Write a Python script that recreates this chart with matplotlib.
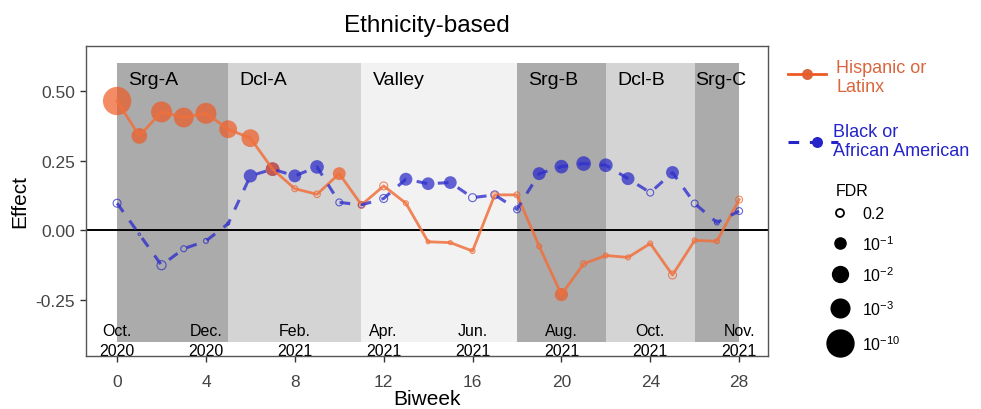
import numpy as np
from matplotlib import pyplot as plt
from matplotlib.lines import Line2D

plt.rcParams['font.family'] = ['Liberation Sans', 'DejaVu Sans']
plt.rcParams['mathtext.fontset'] = 'custom'
plt.rcParams['mathtext.rm'] = 'Liberation Sans'
plt.rcParams['mathtext.it'] = 'Liberation Sans:italic'

biweek = list(range(29))

hisp_effect = [0.463, 0.338, 0.424, 0.404, 0.419, 0.362, 0.330, 0.219, 0.149, 0.129,
               0.203, 0.091, 0.159, 0.097, -0.041, -0.044, -0.074, 0.127, 0.127, -0.057,
               -0.230, -0.120, -0.090, -0.097, -0.047, -0.160, -0.036, -0.039, 0.110]
hisp_fdr = [1e-10, 0.026, 4e-4, 1.3e-3, 4e-4, 7e-3, 7e-3, 0.068, 0.40, 0.37,
            0.089, 0.35, 0.29, 0.46, 0.51, 0.51, 0.46, 0.40, 0.40, 0.46,
            0.079, 0.40, 0.46, 0.46, 0.46, 0.29, 0.46, 0.46, 0.35]

black_effect = [0.097, -0.014, -0.125, -0.066, -0.038, 0.024, 0.195, 0.219, 0.195, 0.227,
                0.100, 0.091, 0.114, 0.183, 0.167, 0.171, 0.117, 0.127, 0.075, 0.203,
                0.228, 0.239, 0.233, 0.185, 0.135, 0.207, 0.096, 0.028, 0.069]
black_fdr = [0.29, 0.63, 0.23, 0.40, 0.46, 0.56, 0.079, 0.068, 0.089, 0.068,
             0.35, 0.40, 0.29, 0.089, 0.095, 0.095, 0.29, 0.29, 0.35, 0.089,
             0.068, 0.044, 0.068, 0.089, 0.35, 0.089, 0.35, 0.46, 0.35]

wave_names = ['Srg-A', 'Dcl-A', 'Valley', 'Srg-B', 'Dcl-B', 'Srg-C']
wave_start = [0, 5, 11, 18, 22, 26]
wave_end = [5, 11, 18, 22, 26, 28]
wave_label_x = [0.5, 5.5, 11.5, 18.5, 22.5, 26.0]

month_x = [0, 4, 8, 12, 16, 20, 24, 28]
month_lab = ['Oct.', 'Dec.', 'Feb.', 'Apr.', 'Jun.', 'Aug.', 'Oct.', 'Nov.']
year_lab = ['2020', '2020', '2021', '2021', '2021', '2021', '2021', '2021']

legend_fdr = [0.2, 1e-1, 1e-2, 1e-3, 1e-10]
legend_fdr_lab = ['0.2', '10$^{-1}$', '10$^{-2}$', '10$^{-3}$', '10$^{-10}$']

ORANGE = '#EE5A24'
BLUE = '#2424C8'
band_col = {'Srg': '#ABABAB', 'Dcl': '#D4D4D4', 'Val': '#F2F2F2'}


def msize(fdr):
    # diameter in px from -log10(FDR), then scatter area in pt^2 (dpi 100)
    v = -np.log10(np.asarray(fdr))
    d = np.clip(12 + 15 * np.log10(v), 2.5, None)
    return (d * 0.72) ** 2


fig = plt.figure(figsize=(9.81, 4.10), dpi=100)
ax = fig.add_axes([86 / 981, 53 / 410, 682 / 981, 310 / 410])

for name, s, e, lx in zip(wave_names, wave_start, wave_end, wave_label_x):
    ax.bar(s, 1.0, bottom=-0.40, width=e - s, align='edge', color=band_col[name[:3]],
           zorder=0, linewidth=0)
    ax.text(lx, 0.54, name, fontsize=14, va='center', ha='left', color='black', zorder=1)

for mx, ml, yl in zip(month_x, month_lab, year_lab):
    ax.text(mx, -0.358, ml, fontsize=11.5, ha='center', va='center', zorder=1)
    ax.text(mx, -0.430, yl, fontsize=11.5, ha='center', va='center', zorder=1)

ax.axhline(0, color='black', lw=1.4, zorder=2)

for eff, fdr, col in [(black_effect, black_fdr, BLUE), (hisp_effect, hisp_fdr, ORANGE)]:
    eff = np.array(eff)
    fdr = np.array(fdr)
    x = np.array(biweek)
    sig = fdr <= 0.1
    ax.scatter(x[sig], eff[sig], s=msize(fdr[sig]) * 1.1, color=col, alpha=0.7, lw=0, zorder=3)
    ax.scatter(x[~sig], eff[~sig], s=msize(fdr[~sig]), facecolor='none', edgecolor=col,
               alpha=0.7, lw=0.8, zorder=3)

ax.plot(biweek, hisp_effect, color='#F0703C', lw=2, alpha=0.85, zorder=4)
ax.plot(biweek, black_effect, color='#3030CC', lw=2.2, alpha=0.8, dashes=(3.5, 3.5), zorder=4)

ax.set_xlim(-1.4, 29.3)
ax.set_ylim(-0.45, 0.66)
ax.set_xticks(month_x)
ax.set_yticks([-0.25, 0, 0.25, 0.5])
ax.set_yticklabels(['-0.25', '0.00', '0.25', '0.50'])
ax.tick_params(labelsize=12.5, labelcolor='#444444', color='#333333', length=4, width=1,
               pad=4)
ax.tick_params(axis='x', pad=9)
for sp in ax.spines.values():
    sp.set_color('#555555')
    sp.set_linewidth(1)
ax.set_xlabel('Biweek', fontsize=15, labelpad=0)
ax.set_ylabel('Effect', fontsize=15, labelpad=4)
ax.set_title('Ethnicity-based', fontsize=17.5, pad=11)

# legend drawn in figure pixel space
lg = fig.add_axes([0, 0, 1, 1])
lg.set_xlim(0, 981)
lg.set_ylim(410, 0)
lg.axis('off')
lg.add_line(Line2D([788, 826], [75, 75], color=ORANGE, lw=2))
lg.scatter([807], [75], s=(11 * 0.72) ** 2, color='#D9663C', lw=0)
lg.text(836, 78, 'Hispanic or\nLatinx', color='#D9663C', fontsize=13, va='center',
        ha='left', linespacing=1.2)
lg.add_line(Line2D([788, 838], [143, 143], color=BLUE, lw=2.2, dashes=(3.5, 3.5)))
lg.scatter([817], [143], s=(11 * 0.72) ** 2, color=BLUE, lw=0)
lg.text(833, 142, 'Black or\nAfrican American', color=BLUE, fontsize=13, va='center',
        ha='left', linespacing=1.2)
lg.text(836, 192, 'FDR', fontsize=11.5, va='center', ha='left')
for i, (f, lab) in enumerate(zip(legend_fdr, legend_fdr_lab)):
    yy = [214, 244, 275, 309, 344][i]
    if f > 0.1:
        lg.scatter([840], [yy], s=(8 * 0.72) ** 2, facecolor='none', edgecolor='black', lw=1.3)
    else:
        lg.scatter([840], [yy], s=msize([f]) * 1.1, color='black', lw=0)
    lg.text(862, yy + 1, lab, fontsize=11.5, va='center', ha='left')

fig.savefig('out.png', dpi=100)
